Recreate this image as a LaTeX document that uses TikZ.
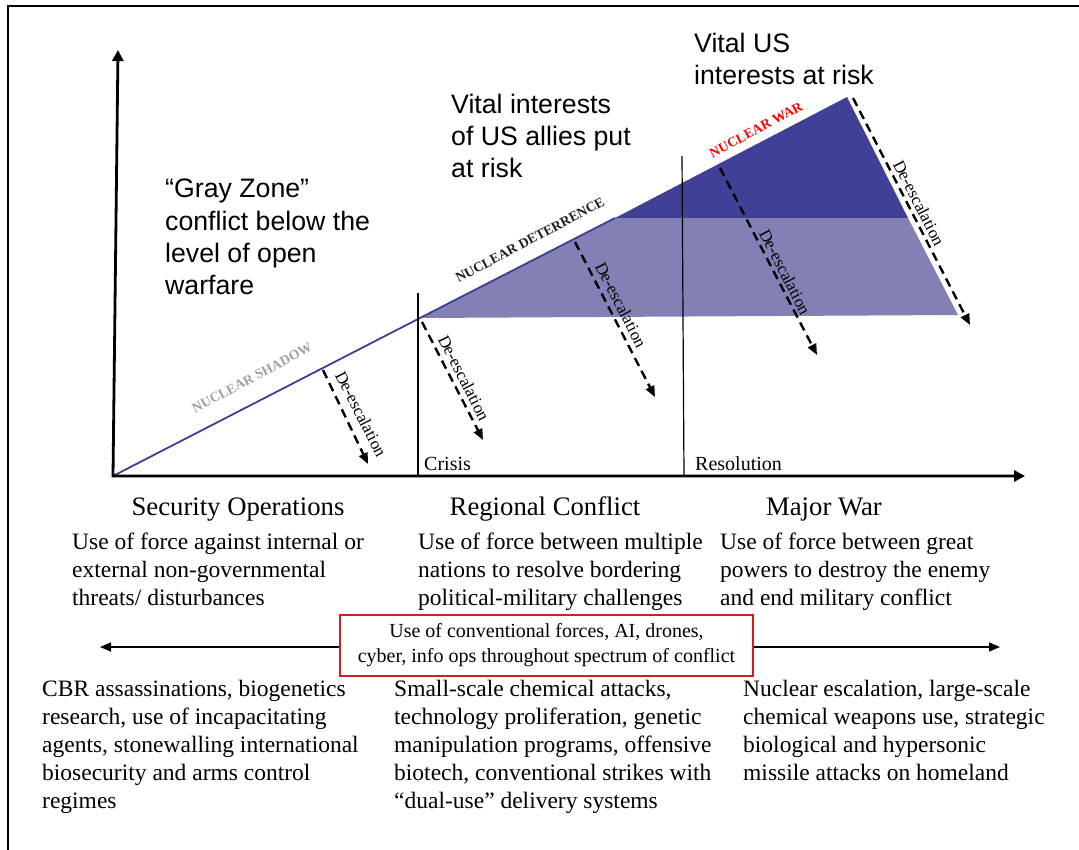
\documentclass[tikz,border=0pt]{standalone}
\usepackage{fontspec}
\setmainfont{Liberation Serif}
\newfontfamily\arialf{Liberation Sans}
\usetikzlibrary{arrows.meta}
\definecolor{lineblue}{RGB}{62,62,150}
\definecolor{darkfill}{RGB}{64,64,150}
\definecolor{lightfill}{RGB}{131,128,182}
\definecolor{boxred}{RGB}{210,30,30}
\definecolor{shadowgray}{RGB}{160,160,160}
\definecolor{deterdark}{RGB}{30,30,30}
\definecolor{warred}{RGB}{255,0,0}
\begin{document}
\begin{tikzpicture}[x=1pt,y=-1pt,
  deesc/.style={line width=2.4pt, dash pattern=on 9pt off 5.5pt, -{Triangle[length=11pt,width=9pt]}},
  deesclabel/.style={font=\fontsize{17}{20}\selectfont, rotate=-63, inner sep=0},
  sanstext/.style={font=\arialf\fontsize{26.7}{32.4}\selectfont, align=left, anchor=base west, inner sep=0},
  titletext/.style={font=\fontsize{26.7}{32}\selectfont, anchor=base, inner sep=0},
  desctext/.style={font=\fontsize{23.5}{28}\selectfont, align=left, anchor=base west, inner sep=0},
  smalltext/.style={font=\fontsize{20}{24}\selectfont, anchor=base west, inner sep=0},
  linelabel/.style={font=\bfseries\fontsize{13.7}{16}\selectfont, rotate=28, inner sep=0},
  axis/.style={line width=2.8pt, {Triangle[length=11pt,width=11pt]}-{Triangle[length=11pt,width=11pt]}},
  divider/.style={line width=1.2pt}
]
\useasboundingbox (0,0) rectangle (1079,850);
% frame
\draw[line width=2.4pt] (8,850) -- (8,6) -- (1079,6);

% key points
\coordinate (O) at (113,476);
\coordinate (Ytop) at (118,50);
\coordinate (Xend) at (1025,476);
\coordinate (P1) at (420,318);
\coordinate (P2) at (615,218);
\coordinate (Apex) at (847,97);
\coordinate (Q1) at (908,218);
\coordinate (Q2) at (958,315);

% escalation shapes
\fill[lightfill] (P1) -- (P2) -- (Q1) -- (Q2) -- cycle;
\fill[darkfill] (P2) -- (Apex) -- (Q1) -- cycle;
\draw[lineblue, line width=1.8pt] (O) -- (P1) -- (P2);

% dividers
\coordinate (C1t) at (418,293);
\coordinate (C1b) at (418,476);
\coordinate (C2t) at (682,156);
\coordinate (C2b) at (684,476);
\draw[divider] (C1t) -- (C1b);
\draw[divider] (C2t) -- (C2b);

% axes
\draw[axis] (Ytop) -- (O) -- (Xend);

% de-escalation arrows
\coordinate (d1s) at (323,370); \coordinate (d1e) at (368,464);
\coordinate (d2s) at (422,322); \coordinate (d2e) at (483,440);
\coordinate (d3s) at (575,242); \coordinate (d3e) at (655,397);
\coordinate (d4s) at (720,168); \coordinate (d4e) at (817,355);
\coordinate (d5s) at (853,98);  \coordinate (d5e) at (970,325);
\draw[deesc] (d1s) -- (d1e);
\draw[deesc] (d2s) -- (d2e);
\draw[deesc] (d3s) -- (d3e);
\draw[deesc] (d4s) -- (d4e);
\draw[deesc] (d5s) -- (d5e);
\node[deesclabel] (l1) at (361,414) {De-escalation};
\node[deesclabel] (l2) at (464,378) {De-escalation};
\node[deesclabel] (l3) at (621,305) {De-escalation};
\node[deesclabel] (l4) at (785,272) {De-escalation};
\node[deesclabel] (l5) at (919,203) {De-escalation};

% line labels
\node[linelabel, text=shadowgray] (ns) at (252,378) {NUCLEAR SHADOW};
\node[linelabel, text=deterdark] (nd) at (530,240) {NUCLEAR DETERRENCE};
\node[linelabel, text=warred] (nw) at (756,130) {NUCLEAR WAR};

% top texts (anchor is the baseline of the last line)
\node[sanstext] (gz) at (165,295) {“Gray Zone”\\conflict below the\\level of open\\warfare};
\node[sanstext] (va) at (451,178) {Vital interests\\of US allies put\\at risk};
\node[sanstext] (vus) at (694,85) {Vital US\\interests at risk};

% axis labels
\node[smalltext] (crisis) at (424,470) {Crisis};
\node[smalltext] (resol) at (695,470) {Resolution};

% column titles
\node[titletext] (t1) at (238,515) {Security Operations};
\node[titletext] (t2) at (545,515) {Regional Conflict};
\node[titletext] (t3) at (824,515) {Major War};

% descriptions
\node[desctext] (s1) at (72,605) {Use of force against internal or\\external non-governmental\\threats/ disturbances};
\node[desctext] (s2) at (418,605) {Use of force between multiple\\nations to resolve bordering\\political-military challenges};
\node[desctext] (s3) at (720,605) {Use of force between great\\powers to destroy the enemy\\and end military conflict};

% spectrum arrow and box
\coordinate (sl) at (100,647);
\coordinate (sr) at (1000,647);
\draw[line width=1.5pt, {Triangle[length=11pt,width=9pt]}-{Triangle[length=11pt,width=9pt]}] (sl) -- (sr);
\node[draw=boxred, line width=1.3pt, fill=white, minimum width=413pt, minimum height=61pt, inner sep=0, align=center, font=\fontsize{20}{25}\selectfont] (box) at (546.5,645.5) {Use of conventional forces, AI, drones,\\cyber, info ops throughout spectrum of conflict};

% bottom texts
\node[desctext] (b1) at (42,808) {CBR assassinations, biogenetics\\research, use of incapacitating\\agents, stonewalling international\\biosecurity and arms control\\regimes};
\node[desctext] (b2) at (394,808) {Small-scale chemical attacks,\\technology proliferation, genetic\\manipulation programs, offensive\\biotech, conventional strikes with\\“dual-use” delivery systems};
\node[desctext] (b3) at (743,780) {Nuclear escalation, large-scale\\chemical weapons use, strategic\\biological and hypersonic\\missile attacks on homeland};
\end{tikzpicture}
\end{document}
